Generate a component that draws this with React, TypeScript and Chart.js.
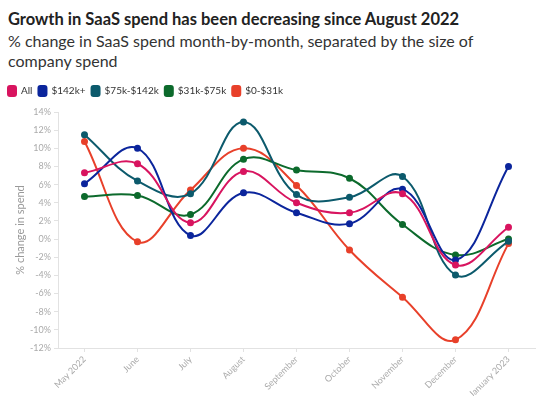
import React, { useEffect, useRef } from 'react';
import { Chart, registerables } from 'chart.js';
Chart.register(...registerables);

const months = ['May 2022', 'June', 'July', 'August', 'September', 'October', 'November', 'December', 'January 2023'];
const allSpend = [7.3, 8.3, 1.8, 7.45, 4.0, 2.9, 5.0, -2.85, 1.3];
const spend142kPlus = [6.1, 10.0, 0.4, 5.1, 2.9, 1.7, 5.5, -2.3, 8.0];
const spend75kTo142k = [11.5, 6.4, 5.0, 12.9, 4.9, 4.6, 6.9, -3.95, -0.25];
const spend31kTo75k = [4.7, 4.8, 2.7, 8.8, 7.6, 6.7, 1.6, -1.75, 0.0];
const spend0To31k = [10.75, -0.3, 5.4, 10.0, 5.9, -1.2, -6.4, -11.1, -0.5];
const seriesNames = ['All', '$142k+', '$75k-$142k', '$31k-$75k', '$0-$31k'];
const seriesColors = ['#D8145F', '#0B259C', '#0C5A6C', '#0C6A2C', '#E8402A'];

const FONT = 'Lato, "Noto Sans", sans-serif';

const legendFixedHeight = {
  id: 'legendFixedHeight',
  beforeLayout(chart: any) {
    const lg = chart.legend;
    if (lg && !lg._fixed) {
      const orig = lg.fit.bind(lg);
      lg.fit = function () {
        orig();
        this.height = 32;
      };
      lg._fixed = true;
    }
  },
};

export default function App() {
  const ref = useRef<HTMLCanvasElement>(null);
  useEffect(() => {
    const values = [allSpend, spend142kPlus, spend75kTo142k, spend31kTo75k, spend0To31k];
    const chart = new Chart(ref.current!, {
      type: 'line',
      data: {
        labels: months,
        datasets: values.map((v, i) => ({
          label: seriesNames[i],
          data: v,
          borderColor: seriesColors[i],
          backgroundColor: seriesColors[i],
          borderWidth: 2,
          pointRadius: 2.5,
          pointHoverRadius: 3,
          tension: 0.4,
          fill: false,
        })),
      },
      plugins: [legendFixedHeight],
      options: {
        responsive: false,
        animation: false,
        layout: { padding: { left: 2, right: 13, top: 0, bottom: 0 } },
        plugins: {
          tooltip: { enabled: false },
          legend: {
            position: 'top',
            align: 'start',
            labels: {
              boxWidth: 8,
              boxHeight: 10,
              useBorderRadius: true,
              borderRadius: 2,
              padding: 6,
              color: '#333',
              font: { family: FONT, size: 10 },
            },
          },
        },
        scales: {
          x: {
            offset: true,
            grid: { display: true, drawOnChartArea: false, offset: false, tickLength: 4, color: '#e2e2e2' },
            border: { color: '#e2e2e2' },
            ticks: {
              minRotation: 45,
              maxRotation: 45,
              autoSkip: false,
              color: '#aaa',
              font: { family: FONT, size: 9 },
              padding: 2,
            },
            afterFit: (s: any) => { s.height = 48; },
          },
          y: {
            min: -12,
            max: 14,
            grid: { display: true, drawOnChartArea: false, tickLength: 4, color: '#e2e2e2' },
            border: { color: '#e2e2e2' },
            ticks: {
              stepSize: 2,
              color: '#aaa',
              font: { family: FONT, size: 9 },
              padding: 3,
              callback: (v: any) => v + '%',
            },
            title: {
              display: true,
              text: '% change in spend',
              color: '#999',
              font: { family: FONT, size: 11 },
              padding: { top: 12, bottom: 0 },
            },
            afterFit: (s: any) => { s.width = 56; },
          },
        },
      },
    });
    return () => chart.destroy();
  }, []);
  return (
    <div style={{ position: 'absolute', left: 0, top: 0, width: 548, height: 396, overflow: 'hidden', background: '#fff', fontFamily: FONT, color: '#222' }}>
      <div style={{ position: 'absolute', left: 8, top: 8, fontSize: 16.5, lineHeight: '22px', fontWeight: 700, whiteSpace: 'nowrap' }}>
        Growth in SaaS spend has been decreasing since August 2022
      </div>
      <div style={{ position: 'absolute', left: 8, top: 31, fontSize: 16, lineHeight: '20px', whiteSpace: 'nowrap', color: '#333' }}>
        % change in SaaS spend month-by-month, separated by the size of<br />company spend
      </div>
      <canvas ref={ref} width={548} height={316} style={{ position: 'absolute', left: 0, top: 80 }} />
    </div>
  );
}
